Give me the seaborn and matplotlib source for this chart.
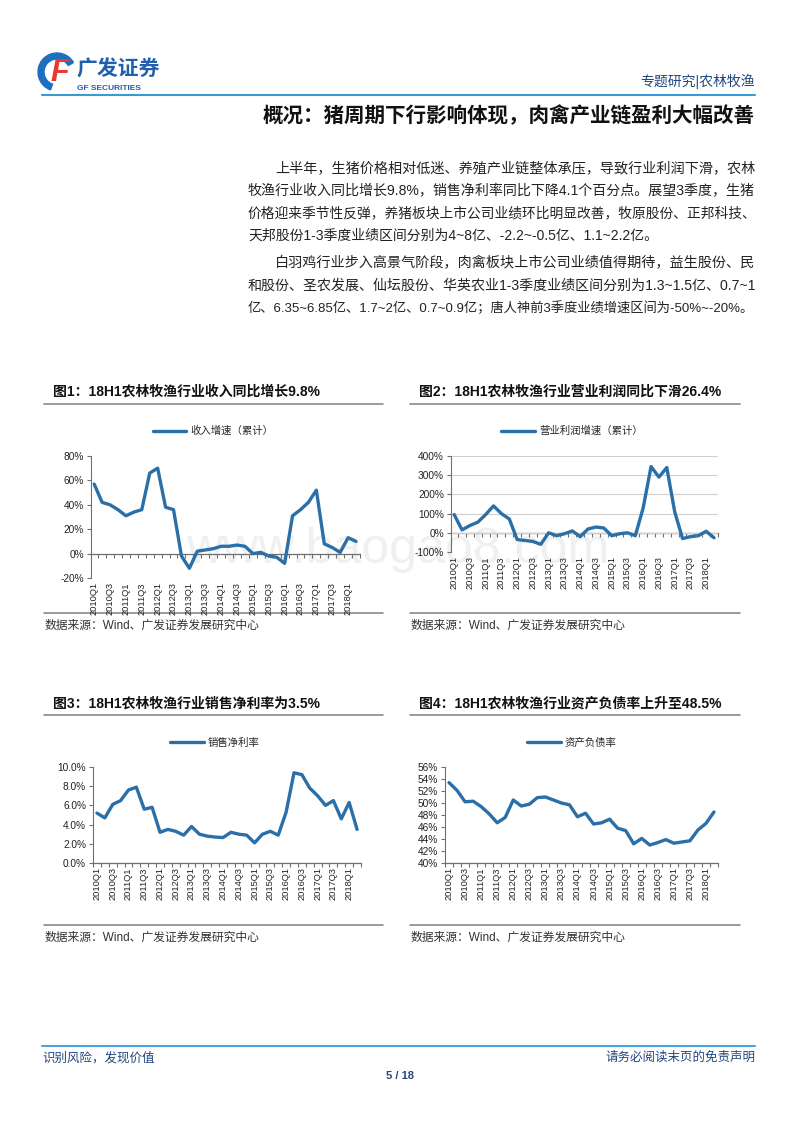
import numpy as np
import pandas as pd
import matplotlib
matplotlib.use("Agg")
import matplotlib.pyplot as plt
import seaborn as sns
from matplotlib.patches import Wedge

quarters = ["2010Q1", "2010Q2", "2010Q3", "2010Q4", "2011Q1", "2011Q2", "2011Q3", "2011Q4",
            "2012Q1", "2012Q2", "2012Q3", "2012Q4", "2013Q1", "2013Q2", "2013Q3", "2013Q4",
            "2014Q1", "2014Q2", "2014Q3", "2014Q4", "2015Q1", "2015Q2", "2015Q3", "2015Q4",
            "2016Q1", "2016Q2", "2016Q3", "2016Q4", "2017Q1", "2017Q2", "2017Q3", "2017Q4",
            "2018Q1", "2018Q2"]

revenue_growth = [57, 42, 40, 36, 31, 34, 36, 66, 70, 38, 36, -2, -12, 2, 3, 4,
                  6, 6, 7, 6, 0, 1, -2, -3, -8, 31, 36, 42, 52, 8, 5, 1, 13, 10]
profit_growth = [95, 15, 38, 55, 95, 140, 100, 72, -35, -40, -45, -60, 0, -15, -5, 10,
                 -20, 20, 30, 25, -15, -5, 0, -15, 130, 345, 290, 340, 110, -30, -20, -15, 8, -26]
net_margin = [5.2, 4.7, 6.1, 6.5, 7.6, 7.9, 5.6, 5.8, 3.2, 3.5, 3.3, 2.9, 3.8, 3.0, 2.8, 2.7,
              2.65, 3.2, 3.0, 2.9, 2.1, 3.0, 3.3, 2.9, 5.3, 9.4, 9.2, 7.8, 7.0, 6.0, 6.5, 4.6, 6.3, 3.5]
debt_ratio = [53.4, 52.1, 50.2, 50.3, 49.4, 48.2, 46.7, 47.6, 50.5, 49.5, 49.8, 50.9, 51.0, 50.5, 50.0, 49.7,
              47.7, 48.3, 46.5, 46.7, 47.3, 45.8, 45.4, 43.2, 44.1, 43.0, 43.4, 43.9, 43.3, 43.5, 43.7, 45.5, 46.6, 48.5]

para1 = ["上半年，生猪价格相对低迷、养殖产业链整体承压，导致行业利润下滑，农林",
         "牧渔行业收入同比增长9.8%，销售净利率同比下降4.1个百分点。展望3季度，生猪",
         "价格迎来季节性反弹，养猪板块上市公司业绩环比明显改善，牧原股份、正邦科技、",
         "天邦股份1-3季度业绩区间分别为4~8亿、-2.2~-0.5亿、1.1~2.2亿。"]
para2 = ["白羽鸡行业步入高景气阶段，肉禽板块上市公司业绩值得期待，益生股份、民",
         "和股份、圣农发展、仙坛股份、华英农业1-3季度业绩区间分别为1.3~1.5亿、0.7~1",
         "亿、6.35~6.85亿、1.7~2亿、0.7~0.9亿；唐人神前3季度业绩增速区间为-50%~-20%。"]

sns.set_theme(style="white")
plt.rcParams['font.family'] = ['Liberation Sans', 'Noto Sans CJK SC', 'DejaVu Sans']

W, H = 800, 1132
LINE = "#2B6FA8"
AXC = "#6f6f6f"
DARKBLUE = "#23467e"

fig = plt.figure(figsize=(8.0, 11.32), dpi=100)
page = fig.add_axes([0, 0, 1, 1], zorder=0)
page.set_xlim(0, W)
page.set_ylim(H, 0)
page.axis("off")
renderer = fig.canvas.get_renderer()

# watermark
page.text(398, 550, "www.baogao8.com", fontsize=36, color="#f0f0f0", ha="center", va="center")

# header / logo
page.add_patch(Wedge((57, 72), 19, 110, 330, width=6, color="#1f6fc0"))
page.text(60, 73, "F", fontsize=22, fontweight="bold", style="italic", color="#e8382f",
          ha="center", va="center")
page.text(76, 70, "广发证券", fontsize=15, fontweight="bold", color="#1f5fae", va="center")
page.text(77, 88, "GF SECURITIES", fontsize=6, fontweight="bold", color="#1f5fae", va="center")
page.text(755, 81, "专题研究|农林牧渔", fontsize=10, color=DARKBLUE, ha="right", va="center")
page.plot([42, 755], [95, 95], color="#3a9ad9", lw=1.5)
page.text(755, 116, "概况：猪周期下行影响体现，肉禽产业链盈利大幅改善", fontsize=14.8,
          fontweight="bold", color="#111111", ha="right", va="center")


def body_line(x, y, s, full):
    t = page.text(x, y, s, fontsize=10, color="#222222", va="center")
    if full:
        w = t.get_window_extent(renderer).width
        t.set_fontsize(10 * (755 - x) / w)


# body text
y = 168
for i, line in enumerate(para1):
    body_line(275 if i == 0 else 248, y, line, i != 3)
    y += 22.7
y = 263
for i, line in enumerate(para2):
    body_line(275 if i == 0 else 248, y, line, True)
    y += 22.5

# footer
page.plot([42, 755], [1046, 1046], color="#4aa3df", lw=1.5)
page.text(42, 1058, "识别风险，发现价值", fontsize=9, color=DARKBLUE, va="center")
page.text(755, 1058, "请务必阅读末页的免责声明", fontsize=9, color=DARKBLUE, ha="right", va="center")
page.text(400, 1076, "5 / 18", fontsize=8, fontweight="bold", color=DARKBLUE, ha="center", va="center")


def frame(x0, x1, ytitle, yline, ysrc, title):
    page.text(x0 + 9, ytitle, title, fontsize=10, fontweight="bold", color="#111111", va="center")
    page.plot([x0, x1], [yline, yline], color="#8a8a8a", lw=1.2)
    page.plot([x0, x1], [ysrc, ysrc], color="#8a8a8a", lw=1.2)
    page.text(x0 + 1, ysrc + 13, "数据来源：Wind、广发证券发展研究中心", fontsize=8.5,
              color="#333333", va="center")


def panel(box, values, label, ylim, yticks, fmt, legend_xy, zero=None, grid=False):
    l, r, t, b = box
    ax = fig.add_axes([l / W, 1 - b / H, (r - l) / W, (b - t) / H], zorder=1)
    ax.set_facecolor("none")
    df = pd.DataFrame({"q": np.arange(len(values)), "v": values})
    sns.lineplot(data=df, x="q", y="v", ax=ax, color=LINE, lw=2.4, label=label)
    ax.set_xlim(-0.4, len(values) - 0.5)
    ax.set_ylim(*ylim)
    ax.set_yticks(yticks)
    ax.set_yticklabels([fmt.format(v) for v in yticks], fontsize=7.3, color="#222222")
    ax.set_xticks(np.arange(0, len(values), 2))
    ax.set_xticklabels(quarters[::2], rotation=90, fontsize=6.7, color="#222222")
    ax.set_xlabel("")
    ax.set_ylabel("")
    for s in ["top", "right"]:
        ax.spines[s].set_visible(False)
    ax.spines["left"].set_color(AXC)
    ax.spines["left"].set_linewidth(0.8)
    ax.tick_params(axis="y", length=3, width=0.8, color=AXC, pad=2, left=True)
    ax.tick_params(axis="x", length=0, pad=3)
    if grid:
        ax.grid(axis="y", color="#d0d0d0", lw=0.8)
        ax.set_axisbelow(True)
    tick_pos = np.arange(-0.5, len(values), 1)
    if zero is not None:
        ax.spines["bottom"].set_visible(False)
        frac = (zero - ylim[0]) / (ylim[1] - ylim[0])
        sec = ax.secondary_xaxis(frac)
        sec.set_xticks(tick_pos)
        sec.set_xticklabels([])
        sec.spines["bottom"].set_color(AXC)
        sec.spines["bottom"].set_linewidth(0.9)
        sec.tick_params(length=3, width=0.8, color=AXC, direction="out")
    else:
        ax.spines["bottom"].set_color(AXC)
        ax.spines["bottom"].set_linewidth(0.9)
        ax.set_xticks(tick_pos, minor=True)
        ax.tick_params(axis="x", which="minor", length=3, width=0.8, color=AXC, bottom=True)
    ax.legend(loc="center", bbox_to_anchor=(legend_xy[0] / W, 1 - legend_xy[1] / H),
              bbox_transform=fig.transFigure, frameon=False, fontsize=7.5,
              handlelength=3.2, handletextpad=0.4)
    return ax


frame(44, 383, 392, 404, 613, "图1：18H1农林牧渔行业收入同比增长9.8%")
frame(410, 740, 392, 404, 613, "图2：18H1农林牧渔行业营业利润同比下滑26.4%")
frame(44, 383, 704, 715, 925, "图3：18H1农林牧渔行业销售净利率为3.5%")
frame(410, 740, 704, 715, 925, "图4：18H1农林牧渔行业资产负债率上升至48.5%")

panel((91, 360, 456, 578), revenue_growth, "收入增速（累计）", (-20, 80),
      [-20, 0, 20, 40, 60, 80], "{:.0f}%", (213, 431), zero=0)
panel((451, 718, 456, 552), profit_growth, "营业利润增速（累计）", (-100, 400),
      [-100, 0, 100, 200, 300, 400], "{:.0f}%", (572, 431), zero=0, grid=True)
panel((93, 361, 767, 863), net_margin, "销售净利率", (0, 10),
      [0, 2, 4, 6, 8, 10], "{:.1f}%", (215, 743))
panel((445, 718, 767, 863), debt_ratio, "资产负债率", (40, 56),
      [40, 42, 44, 46, 48, 50, 52, 54, 56], "{:.0f}%", (572, 743))

fig.savefig("out.png", dpi=100)
